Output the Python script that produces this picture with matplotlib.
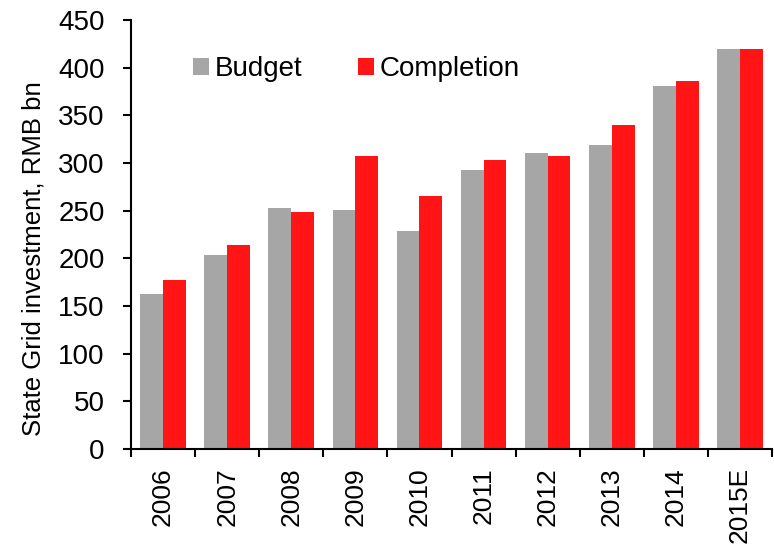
import numpy as np
import matplotlib
matplotlib.use("Agg")
import matplotlib.pyplot as plt

plt.rcParams['font.family'] = ['Liberation Sans', 'DejaVu Sans']

years = ['2006', '2007', '2008', '2009', '2010', '2011', '2012', '2013', '2014', '2015E']
budget = [163, 203, 253, 251, 229, 293, 310, 319, 381, 420]
completion = [177, 214, 249, 307, 265, 303, 307, 340, 386, 420]

fig = plt.figure(figsize=(7.74, 5.44), dpi=100)
ax = fig.add_axes([131 / 774, 1 - 449 / 544, (772 - 131) / 774, (449 - 20) / 544])

x = np.arange(len(years))
w = 0.355
ax.bar(x - w / 2, budget, w, color='#a6a6a6', label='Budget')
ax.bar(x + w / 2, completion, w, color='#ff1515', label='Completion')

ax.set_xlim(-0.5, len(years) - 0.5)
ax.set_ylim(0, 450)
ax.set_yticks(range(0, 451, 50))
ax.tick_params(axis='y', labelsize=20, length=6, width=1.5, direction='out', pad=13)

# category labels centred, tick marks at the boundaries
ax.set_xticks(x)
ax.set_xticklabels(years, rotation=90, fontsize=19)
ax.tick_params(axis='x', which='major', length=0, pad=13)
ax.set_xticks(np.arange(-0.5, len(years)), minor=True)
ax.tick_params(axis='x', which='minor', length=6, width=1.5, direction='out')

for s in ['top', 'right']:
    ax.spines[s].set_visible(False)
for s in ['left', 'bottom']:
    ax.spines[s].set_linewidth(1.5)

ax.set_ylabel('State Grid investment, RMB bn', fontsize=18.5)
ax.yaxis.set_label_coords(-0.133, 0.444)

ax.legend(loc='upper left', bbox_to_anchor=(0.058, 0.974), ncol=2, frameon=False,
          fontsize=20, handlelength=0.58, handleheight=0.58, handletextpad=0.2,
          columnspacing=2.0)

fig.savefig('out.png', dpi=100)
